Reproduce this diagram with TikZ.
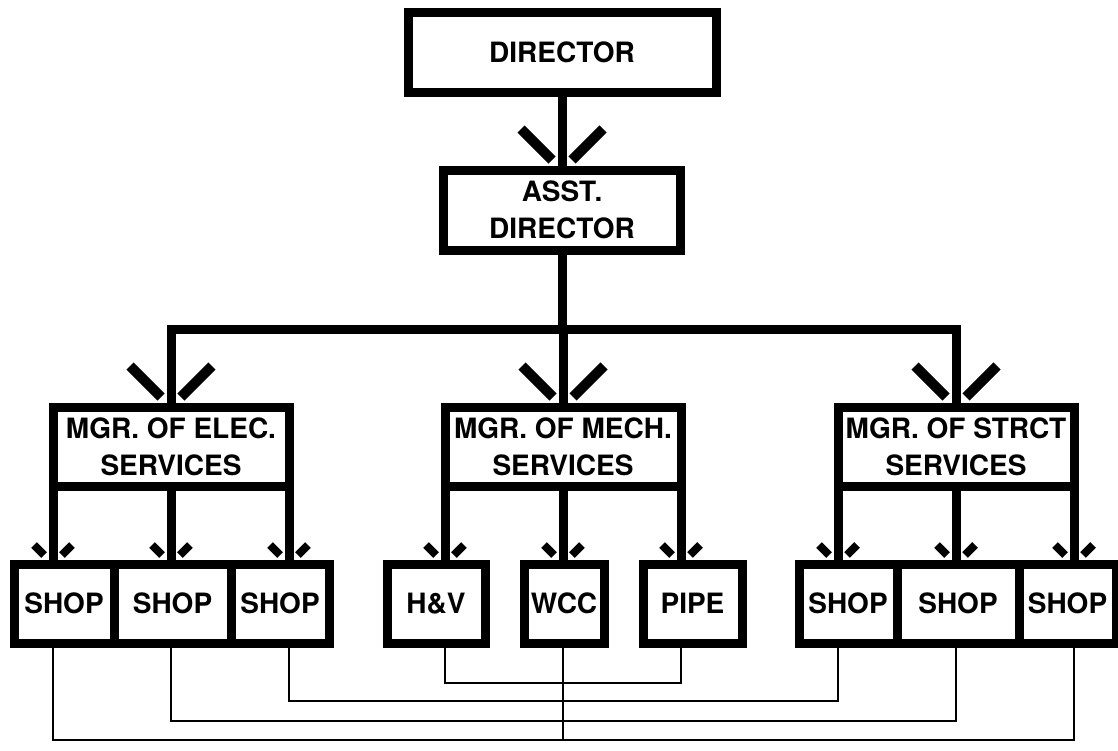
\documentclass[tikz,border=0pt]{standalone}
\usepackage{fontspec}
\setmainfont{TeX Gyre Heros}
\usetikzlibrary{calc}

\tikzset{
  unit/.style={draw, line width=9pt, inner sep=2pt, outer sep=0pt, align=center,
    font=\fontsize{28}{37}\selectfont\bfseries},
  mgr/.style={unit, minimum width=236pt, minimum height=79pt},
  shop/.style={unit, minimum height=79pt},
  trunk/.style={line width=9pt},
  link/.style={line width=2.5pt},
  bigfork/.style={line width=10pt},
  smallfork/.style={line width=8pt}
}

% two split bars pointing at a tip: style, tip, far, near
\newcommand{\forkhead}[4]{%
  \draw[#1] ($(#2)+(-#3,-#3)$) -- ($(#2)+(-#4,-#4)$);
  \draw[#1] ($(#2)+(#3,-#3)$) -- ($(#2)+(#4,-#4)$);
}

\begin{document}
\begin{tikzpicture}[x=1pt, y=-1pt]
  \useasboundingbox (0,0) rectangle (1118,750);

  % Director level
  \node[unit, minimum width=308pt, minimum height=80pt] (dir) at (562,52) {DIRECTOR};
  \node[unit, minimum width=237pt, minimum height=80pt] (asst) at (562,210) {ASST.\\DIRECTOR};
  \draw[trunk] (dir.south) -- (asst.north);
  \forkhead{bigfork}{asst.north}{41}{10}

  % Managers
  \node[mgr] (mgrE) at (171,446.5) {MGR. OF ELEC.\\SERVICES};
  \node[mgr] (mgrM) at (563,446.5) {MGR. OF MECH.\\SERVICES};
  \node[mgr] (mgrS) at (956,446.5) {MGR. OF STRCT\\SERVICES};

  % Bus from assistant director
  \draw[trunk] (asst.south) -- ++(0,79) coordinate (bus);
  \draw[trunk] (mgrE.north) -- (mgrE.north |- bus) -- (mgrS.north |- bus) -- (mgrS.north);
  \draw[trunk] (mgrM.north |- bus) -- (mgrM.north);
  \forkhead{bigfork}{mgrE.north}{41}{10}
  \forkhead{bigfork}{mgrM.north}{41}{10}
  \forkhead{bigfork}{mgrS.north}{41}{10}

  % Shops
  \node[shop, minimum width=100pt] (shE1) at (64,603.5) {SHOP};
  \node[shop, minimum width=117pt] (shE2) at (172.5,603.5) {SHOP};
  \node[shop, minimum width=98pt] (shE3) at (280,603.5) {SHOP};
  \node[shop, minimum width=98pt] (shHV) at (436,603.5) {H\&V};
  \node[shop, minimum width=80pt] (shW) at (564,603.5) {WCC};
  \node[shop, minimum width=99pt] (shP) at (692.5,603.5) {PIPE};
  \node[shop, minimum width=98pt] (shS1) at (848,603.5) {SHOP};
  \node[shop, minimum width=122pt] (shS2) at (958,603.5) {SHOP};
  \node[shop, minimum width=97pt] (shS3) at (1067.5,603.5) {SHOP};

  % Tips where the manager lines meet the shops
  \coordinate (tE1) at (mgrE.south west |- shE1.north);
  \coordinate (tE2) at (mgrE.south |- shE2.north);
  \coordinate (tE3) at (mgrE.south east |- shE3.north);
  \coordinate (tHV) at (mgrM.south west |- shHV.north);
  \coordinate (tW) at (mgrM.south |- shW.north);
  \coordinate (tP) at (mgrM.south east |- shP.north);
  \coordinate (tS1) at (mgrS.south west |- shS1.north);
  \coordinate (tS2) at (mgrS.south |- shS2.north);
  \coordinate (tS3) at (mgrS.south east |- shS3.north);

  \draw[trunk] (mgrE.south west) -- (tE1);
  \draw[trunk] (mgrE.south) -- (tE2);
  \draw[trunk] (mgrE.south east) -- (tE3);
  \draw[trunk] (mgrM.south west) -- (tHV);
  \draw[trunk] (mgrM.south) -- (tW);
  \draw[trunk] (mgrM.south east) -- (tP);
  \draw[trunk] (mgrS.south west) -- (tS1);
  \draw[trunk] (mgrS.south) -- (tS2);
  \draw[trunk] (mgrS.south east) -- (tS3);
  \forkhead{smallfork}{tE1}{19}{9}
  \forkhead{smallfork}{tE2}{19}{9}
  \forkhead{smallfork}{tE3}{19}{9}
  \forkhead{smallfork}{tHV}{19}{9}
  \forkhead{smallfork}{tW}{19}{9}
  \forkhead{smallfork}{tP}{19}{9}
  \forkhead{smallfork}{tS1}{19}{9}
  \forkhead{smallfork}{tS2}{19}{9}
  \forkhead{smallfork}{tS3}{19}{9}

  % Links between shops
  \draw[link] (shHV.south -| tHV) -- ++(0,40) -| (shP.south -| tP);
  \draw[link] (shE3.south -| tE3) -- ++(0,58) -| (shS1.south -| tS1);
  \draw[link] (shE2.south -| tE2) -- ++(0,78) -| (shS2.south -| tS2);
  \draw[link] (shE1.south -| tE1) -- ++(0,97) -| (shS3.south -| tS3);
  \draw[link] (shW.south -| tW) -- ++(0,97);
\end{tikzpicture}
\end{document}
